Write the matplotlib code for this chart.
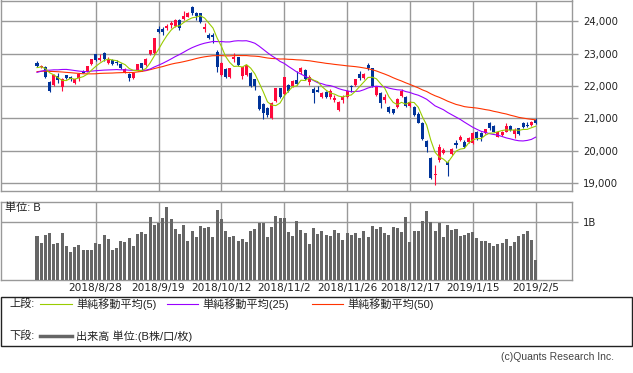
import numpy as np
import pandas as pd
import matplotlib
matplotlib.use('Agg')
import matplotlib.pyplot as plt
from matplotlib.lines import Line2D
from matplotlib.patches import Rectangle
from matplotlib.ticker import FuncFormatter

plt.rcParams['font.family'] = ['Liberation Sans', 'Noto Sans CJK JP', 'DejaVu Sans']

# ---------------- data ----------------
# closes before the visible window (used only to warm up the moving averages)
prior_closes = [22018, 22201,
                22171, 22475, 22539, 22625, 22823, 22694, 22804, 22878, 22966, 22738,
                22851, 22680, 22278, 22555, 22693, 22516, 22338, 22342, 22271, 22270, 22304,
                21811, 21785, 21717, 21546, 21788, 22052, 22196, 21932, 22187, 22597,
                22697, 22794, 22764, 22697, 22396, 22510, 22614, 22586, 22712, 22544, 22553,
                22746, 22512, 22525, 22507, 22662]

opens = [22698, 22595, 22595, 22133, 22031, 22308, 21980, 22339, 22267, 22103,
         22236, 22451, 22451, 22677, 22985, 22800, 23026, 22698, 22800, 22749,
         22677, 22431, 22369, 22236, 22472, 22698, 22636, 22985, 23005, 23754,
         23754, 23785, 23877, 23846, 24031, 24051, 24133, 24420, 24236, 24236,
         23744, 23569, 23569, 23056, 22328, 22523, 22267, 22820, 22882, 22308,
         22338, 22410, 22205, 21703, 21446, 21333, 21026, 21549, 21928, 21754,
         22031, 22000, 22185, 22441, 22492, 22133, 21897, 21877, 21651, 21826,
         21651, 21569, 21262, 21569, 21651, 22000, 22031, 22369, 22236, 22646,
         22544, 21723, 21795, 21569, 21344, 21282, 21344, 21692, 21672, 21385,
         21344, 21139, 20851, 20318, 19774, 19251, 19723, 19949, 19672, 19908,
         20236, 20338, 20267, 20287, 20256, 20575, 20564, 20544, 20851, 20769,
         20441, 20492, 20595, 20769, 20523, 20697, 20851, 20810, 20800, 20954]
highs = [22780, 22646, 22620, 22160, 22370, 22390, 22240, 22350, 22308, 22230,
         22390, 22480, 22630, 22840, 23000, 22985, 23056, 22880, 22820, 22800,
         22700, 22540, 22390, 22400, 22690, 22720, 22860, 23120, 23480, 23857,
         23826, 23918, 24010, 24050, 24060, 24300, 24270, 24460, 24290, 24260,
         23928, 23620, 23620, 23108, 22740, 22544, 22560, 23005, 22900, 22590,
         22660, 22430, 22230, 21730, 21470, 21360, 21510, 21950, 21950, 22290,
         22060, 22185, 22461, 22595, 22520, 22338, 21959, 21990, 21810, 21850,
         21897, 21723, 21540, 21723, 21870, 22031, 22230, 22472, 22390, 22718,
         22560, 21990, 21820, 21754, 21370, 21300, 21620, 21897, 21700, 21540,
         21370, 21210, 20880, 20340, 19800, 19574, 20215, 20082, 19723, 20080,
         20338, 20492, 20338, 20420, 20590, 20600, 20590, 20690, 20903, 20790,
         20620, 20620, 20851, 20790, 20697, 20720, 20903, 20882, 20925, 21005]
lows = [22595, 22544, 22240, 21815, 22000, 22103, 21856, 22205, 22144, 22051,
        22164, 22390, 22430, 22650, 22780, 22780, 22780, 22680, 22650, 22646,
        22530, 22410, 22150, 22200, 22450, 22472, 22620, 22960, 22990, 23620,
        23580, 23713, 23795, 23820, 23723, 24030, 24110, 24200, 24030, 23928,
        23672, 23436, 23333, 22441, 22300, 22236, 22240, 22749, 22615, 22205,
        22300, 21959, 21877, 21250, 20985, 21060, 20990, 21520, 21620, 21730,
        21830, 21960, 22040, 22370, 22185, 22031, 21487, 21805, 21620, 21620,
        21590, 21518, 21230, 21467, 21630, 21826, 22010, 22185, 22210, 22492,
        21980, 21700, 21313, 21487, 21159, 21130, 21320, 21651, 21360, 21360,
        21080, 20851, 20330, 19980, 19130, 18954, 19672, 19908, 19241, 19880,
        20082, 20310, 20082, 20260, 20230, 20338, 20318, 20520, 20646, 20570,
        20420, 20470, 20575, 20620, 20390, 20500, 20697, 20728, 20780, 20830]
closes = [22626, 22626, 22267, 21856, 22339, 22185, 22215, 22236, 22205, 22215,
          22369, 22410, 22615, 22820, 22800, 22862, 22820, 22841, 22677, 22698,
          22554, 22523, 22240, 22390, 22677, 22540, 22841, 23108, 23467, 23672,
          23662, 23846, 23949, 24031, 23785, 24154, 24256, 24256, 24154, 23980,
          23805, 23487, 23497, 22595, 22718, 22267, 22544, 22882, 22646, 22574,
          22646, 22000, 22000, 21282, 21180, 21108, 21487, 21928, 21672, 22267,
          21856, 22164, 22061, 22544, 22215, 22287, 21795, 21826, 21795, 21651,
          21856, 21621, 21518, 21672, 21846, 21959, 22205, 22236, 22369, 22544,
          22000, 21959, 21487, 21672, 21210, 21159, 21600, 21846, 21385, 21518,
          21108, 20872, 20359, 20133, 19159, 19292, 20133, 20031, 19569, 20062,
          20185, 20441, 20133, 20390, 20564, 20390, 20420, 20667, 20698, 20595,
          20595, 20595, 20769, 20646, 20646, 20523, 20728, 20779, 20903, 20872]
# volume, billions of shares
volumes = [0.755, 0.64, 0.77, 0.806, 0.617, 0.635, 0.806, 0.583, 0.48, 0.566,
           0.60, 0.515, 0.515, 0.515, 0.635, 0.617, 0.77, 0.70, 0.515, 0.549,
           0.669, 0.652, 0.72, 0.583, 0.789, 0.823, 0.789, 1.08, 0.943, 0.978,
           1.063, 1.252, 1.046, 0.875, 0.789, 0.943, 0.669, 0.84, 0.737, 0.926,
           0.892, 0.909, 0.737, 1.20, 1.046, 0.84, 0.737, 0.755, 0.669, 0.703,
           0.652, 0.84, 0.875, 0.978, 0.978, 0.737, 0.909, 1.098, 1.063, 1.063,
           0.823, 0.755, 1.012, 0.863, 0.806, 0.617, 0.892, 0.789, 0.84, 0.772,
           0.755, 0.863, 0.806, 0.686, 0.806, 0.772, 0.806, 0.72, 0.84, 0.737,
           0.926, 0.875, 0.909, 0.806, 0.772, 0.909, 0.892, 0.823, 1.08, 0.652,
           0.84, 0.84, 1.012, 1.183, 0.995, 0.84, 0.978, 0.737, 0.943, 0.863,
           0.875, 0.755, 0.772, 0.806, 0.823, 0.72, 0.669, 0.669, 0.635, 0.583,
           0.617, 0.635, 0.703, 0.583, 0.652, 0.755, 0.789, 0.84, 0.686, 0.343]

tick_positions = [14, 29, 44, 59, 74, 89, 104, 119]
tick_labels = ['2018/8/28', '2018/9/19', '2018/10/12', '2018/11/2',
               '2018/11/26', '2018/12/17', '2019/1/15', '2019/2/5']
price_ticks = [19000, 20000, 21000, 22000, 23000, 24000]

# ---------------- styles ----------------
RED = '#ff0a3c'
BLUE = '#003399'
C_MA5 = '#99cc00'
C_MA25 = '#9900ff'
C_MA50 = '#ff3300'
GRID = '#999999'
VOL = '#666666'
TXT = '#222222'
NUMFONT = ['DejaVu Sans']

W, H = 633, 373
fig = plt.figure(figsize=(W / 100, H / 100), dpi=100)


def fx(x):
    return x / W


def fy(y):
    return 1 - y / H


ax = fig.add_axes([fx(0.5), fy(190.7), fx(572) - fx(0.5), fy(0.5) - fy(190.7)])
axv = fig.add_axes([fx(0.5), fy(280), fx(572) - fx(0.5), fy(201.7) - fy(280)])

n = len(closes)
idx = np.arange(n)
o = np.array(opens, float)
h = np.array(highs, float)
l = np.array(lows, float)
c = np.array(closes, float)

all_close = pd.Series(prior_closes + closes, dtype=float)
k = len(prior_closes)
ma5 = all_close.rolling(5).mean().iloc[k:].to_numpy()
ma25 = all_close.rolling(25).mean().iloc[k:].to_numpy()
ma50 = all_close.rolling(50).mean().iloc[k:].to_numpy()

xmin = -36.5 / 4.19
xmax = (572 - 37) / 4.19

# upper panel
ax.set_xlim(xmin, xmax)
ax.set_ylim(18778, 24631)
ax.set_yticks(price_ticks)
ax.set_xticks(tick_positions)
ax.grid(True, color=GRID, lw=1.0)
ax.set_axisbelow(True)
ax.yaxis.tick_right()
ax.yaxis.set_major_formatter(FuncFormatter(lambda v, p: f'{int(v):,}'))
ax.tick_params(axis='y', length=4, width=1, color=GRID, pad=4, labelsize=7.3, labelcolor=TXT)
for t in ax.get_yticklabels():
    t.set_family(NUMFONT)
ax.tick_params(axis='x', length=0, labelbottom=False)
for s in ax.spines.values():
    s.set_color(GRID)
    s.set_linewidth(1.0)

up = c >= o
col = np.where(up, RED, BLUE)
ax.vlines(idx, l, h, colors=col, lw=0.8, zorder=3)
body_bottom = np.minimum(o, c)
body_h = np.maximum(np.abs(c - o), 22)
ax.bar(idx, body_h, bottom=body_bottom, width=0.72, color=col, linewidth=0, zorder=3)

ax.plot(idx, ma50, color=C_MA50, lw=0.8, zorder=4)
ax.plot(idx, ma25, color=C_MA25, lw=0.8, zorder=4)
ax.plot(idx, ma5, color=C_MA5, lw=0.8, zorder=5)

# volume panel
axv.set_xlim(xmin, xmax)
axv.set_ylim(0, 78.3 / 58.3)
axv.set_yticks([1.0])
axv.set_yticklabels(['1B'])
axv.set_xticks(tick_positions)
axv.set_xticklabels(tick_labels)
axv.grid(True, color=GRID, lw=1.0)
axv.set_axisbelow(True)
axv.yaxis.tick_right()
axv.tick_params(axis='y', length=4, width=1, color=GRID, pad=4, labelsize=7.3, labelcolor=TXT)
axv.tick_params(axis='x', length=0, pad=2.5, labelsize=7.6, labelcolor=TXT)
for t in axv.get_xticklabels() + axv.get_yticklabels():
    t.set_family(NUMFONT)
for s in axv.spines.values():
    s.set_color(GRID)
    s.set_linewidth(1.0)
axv.bar(idx, volumes, width=0.72, color=VOL, linewidth=0, zorder=3)

fig.text(fx(5), fy(208), '単位: B', fontsize=8, ha='left', va='center', color=TXT)

# legend box
fig.patches.append(Rectangle((fx(0.5), fy(346)), fx(632) - fx(0.5), fy(297) - fy(346),
                             transform=fig.transFigure, fill=False, edgecolor=TXT, lw=1.0))
ly1, ly2 = 304, 336
fig.text(fx(9), fy(ly1), '上段:', fontsize=8, ha='left', va='center', color=TXT)
fig.text(fx(9), fy(ly2), '下段:', fontsize=8, ha='left', va='center', color=TXT)
for x0, x1, cc, lab in [(40, 72, C_MA5, '単純移動平均(5)'),
                        (167, 198, C_MA25, '単純移動平均(25)'),
                        (312, 343, C_MA50, '単純移動平均(50)')]:
    fig.lines.append(Line2D([fx(x0), fx(x1)], [fy(ly1), fy(ly1)], transform=fig.transFigure,
                            color=cc, lw=0.8))
    fig.text(fx(x1 + 4), fy(ly1), lab, fontsize=8, ha='left', va='center', color=TXT)
fig.lines.append(Line2D([fx(40), fx(72)], [fy(ly2), fy(ly2)], transform=fig.transFigure,
                        color=VOL, lw=2.5))
fig.text(fx(76), fy(ly2), '出来高 単位:(B株/口/枚)', fontsize=8, ha='left', va='center', color=TXT)

fig.text(fx(614), fy(357), '(c)Quants Research Inc.', fontsize=7.5, ha='right', va='center',
         color='#444444')

fig.savefig('out.png', dpi=100)
